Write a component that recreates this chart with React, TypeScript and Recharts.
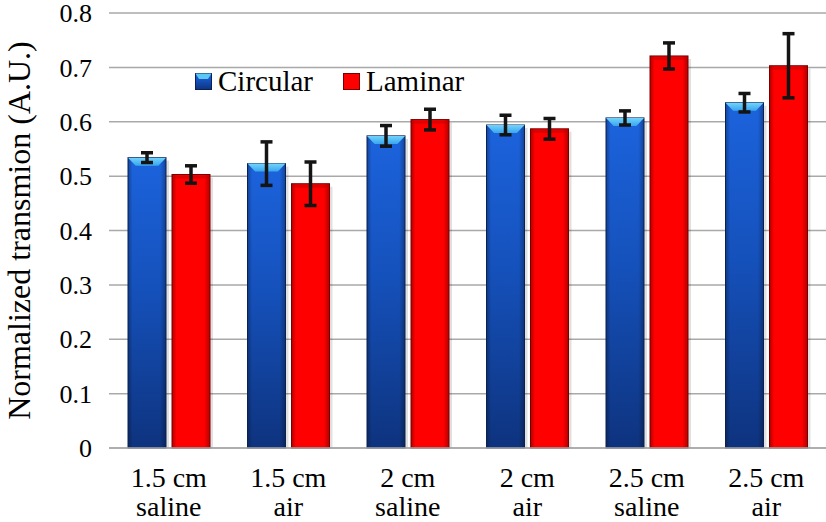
import React from 'react'
import { Bar, BarChart, CartesianGrid, ErrorBar, Legend, XAxis, YAxis } from 'recharts'

const categories = ['1.5 cm\nsaline', '1.5 cm\nair', '2 cm\nsaline', '2 cm\nair', '2.5 cm\nsaline', '2.5 cm\nair']
const circular = [0.534, 0.523, 0.574, 0.594, 0.607, 0.635]
const circularErr = [0.009, 0.04, 0.019, 0.018, 0.013, 0.017]
const laminar = [0.503, 0.486, 0.604, 0.587, 0.721, 0.703]
const laminarErr = [0.016, 0.04, 0.019, 0.019, 0.024, 0.059]
const yTicks = [0, 0.1, 0.2, 0.3, 0.4, 0.5, 0.6, 0.7, 0.8]

const data = categories.map((name, i) => ({
  name,
  circular: circular[i],
  circularErr: circularErr[i],
  laminar: laminar[i],
  laminarErr: laminarErr[i],
}))

const FONT = '"Liberation Serif", "Times New Roman", serif'
const GRID = '#a9a9a9'

const BlueBar = ({ x, y, width, height }: any) => {
  if (!height || height <= 0) return null
  const b = Math.min(8, height)
  return (
    <g>
      <rect x={ x + 3 } y={ y + 3 } width={ width } height={ height - 3 } fill="#000" opacity={ 0.12 }/>
      <rect x={ x } y={ y } width={ width } height={ height } fill="url(#blueGrad)"/>
      <rect x={ x } y={ y } width={ width } height={ height } fill="url(#edgeGrad)" stroke="#0a2154" strokeWidth={ 1 }/>
      <polygon
        points={ `${ x },${ y } ${ x + width },${ y } ${ x + width * 0.8 },${ y + b } ${ x + width * 0.2 },${ y + b }` }
        fill="url(#bevelGrad)"
      />
    </g>
  )
}

const RedBar = ({ x, y, width, height }: any) => {
  if (!height || height <= 0) return null
  return (
    <g>
      <rect x={ x + 3 } y={ y + 3 } width={ width } height={ height - 3 } fill="#000" opacity={ 0.12 }/>
      <rect x={ x } y={ y } width={ width } height={ height } fill="#ff0000"/>
      <rect x={ x } y={ y } width={ width } height={ height } fill="url(#edgeGrad)" stroke="#7a0000" strokeWidth={ 1 }/>
      <rect x={ x + 1 } y={ y + 1 } width={ width - 2 } height={ 3 } fill="#c00000" opacity={ 0.5 }/>
    </g>
  )
}

const XTick = ({ x, y, payload }: any) => {
  const [a, b] = String(payload.value).split('\n')
  return (
    <text x={ x } y={ y } textAnchor="middle" fontFamily={ FONT } fontSize={ 28 } fill="#000">
      <tspan x={ x } dy={ 39 }>{ a }</tspan>
      <tspan x={ x } dy={ 29 }>{ b }</tspan>
    </text>
  )
}

const LegendBox = () => (
  <div style={ { display: 'flex', alignItems: 'center', fontFamily: FONT, fontSize: 29, color: '#000', lineHeight: '30px' } }>
    <svg width={ 17 } height={ 17 } style={ { marginRight: 6 } }>
      <rect x={ 0.5 } y={ 0.5 } width={ 16 } height={ 16 } fill="url(#blueGrad)" stroke="#0a2154"/>
      <polygon points="0.5,0.5 16.5,0.5 13,6 4,6" fill="#5cc6f5"/>
    </svg>
    <span>Circular</span>
    <svg width={ 17 } height={ 17 } style={ { marginLeft: 30, marginRight: 6 } }>
      <rect x={ 0.5 } y={ 0.5 } width={ 16 } height={ 16 } fill="#ff0000" stroke="#7a0000"/>
    </svg>
    <span>Laminar</span>
  </div>
)

export default function App() {
  return (
    <div style={ { position: 'absolute', left: 0, top: 0, background: '#fff' } }>
      <svg width={ 0 } height={ 0 } style={ { position: 'absolute' } }>
        <defs>
          <linearGradient id="blueGrad" x1="0" y1="0" x2="0" y2="1">
            <stop offset="0%" stopColor="#1c63dd"/>
            <stop offset="45%" stopColor="#1551bb"/>
            <stop offset="100%" stopColor="#0e337e"/>
          </linearGradient>
          <linearGradient id="bevelGrad" x1="0" y1="0" x2="0" y2="1">
            <stop offset="0%" stopColor="#74d3fb"/>
            <stop offset="100%" stopColor="#38a6ee"/>
          </linearGradient>
          <linearGradient id="edgeGrad" x1="0" y1="0" x2="1" y2="0">
            <stop offset="0%" stopColor="#000" stopOpacity={ 0.3 }/>
            <stop offset="12%" stopColor="#000" stopOpacity={ 0 }/>
            <stop offset="85%" stopColor="#000" stopOpacity={ 0 }/>
            <stop offset="100%" stopColor="#000" stopOpacity={ 0.3 }/>
          </linearGradient>
        </defs>
      </svg>
      <BarChart
        width={ 826 }
        height={ 522 }
        data={ data }
        margin={ { top: 13, right: 0, bottom: 0, left: 0 } }
        barSize={ 38 }
        barGap={ 6 }
      >
        <CartesianGrid vertical={ false } stroke={ GRID } strokeWidth={ 1.5 }/>
        <XAxis
          dataKey="name"
          height={ 74 }
          interval={ 0 }
          tickLine={ false }
          tickSize={ 0 }
          tickMargin={ 0 }
          axisLine={ { stroke: GRID, strokeWidth: 1.5 } }
          tick={ <XTick/> }
        />
        <YAxis
          width={ 109 }
          domain={ [0, 0.8] }
          ticks={ yTicks }
          interval={ 0 }
          axisLine={ false }
          tickLine={ false }
          tickSize={ 0 }
          tickMargin={ 17 }
          tickFormatter={ (v: number) => (v === 0 ? '0' : v.toFixed(1)) }
          tick={ { fontFamily: FONT, fontSize: 26, fill: '#000' } }
          label={ {
            value: 'Normalized transmion (A.U.)',
            angle: -90,
            position: 'insideLeft',
            offset: 19,
            style: { fontFamily: FONT, fontSize: 32, fill: '#000', textAnchor: 'middle' },
          } }
        />
        <Legend
          layout="horizontal"
          verticalAlign="middle"
          align="center"
          wrapperStyle={ { left: 195, top: 66, width: 'auto' } }
          content={ <LegendBox/> }
        />
        <Bar dataKey="circular" name="Circular" shape={ <BlueBar/> } isAnimationActive={ false }>
          <ErrorBar dataKey="circularErr" width={ 6 } stroke="#141414" strokeWidth={ 3.5 }/>
        </Bar>
        <Bar dataKey="laminar" name="Laminar" shape={ <RedBar/> } isAnimationActive={ false }>
          <ErrorBar dataKey="laminarErr" width={ 6 } stroke="#141414" strokeWidth={ 3.5 }/>
        </Bar>
      </BarChart>
    </div>
  )
}
